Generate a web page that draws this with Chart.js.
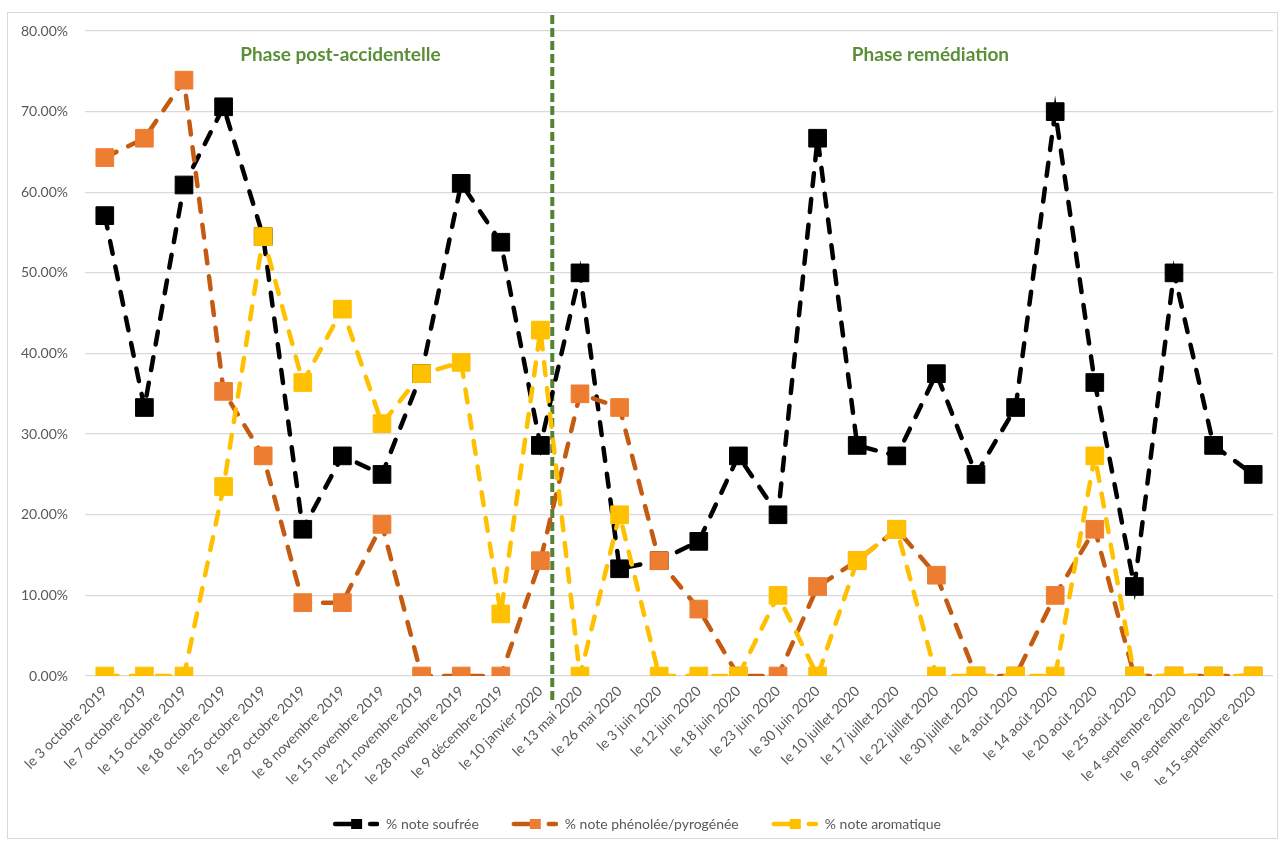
<!DOCTYPE html>
<html>
<head>
<meta charset="utf-8">
<script src="https://cdn.jsdelivr.net/npm/chart.js@4.4.0/dist/chart.umd.min.js"></script>
<style>
  html, body { margin: 0; padding: 0; background: #fff; }
</style>
</head>
<body>
<canvas id="canvasID" width="1281" height="843"></canvas>
<script>
const dates = [
  'le 3 octobre 2019', 'le 7 octobre 2019', 'le 15 octobre 2019', 'le 18 octobre 2019',
  'le 25 octobre 2019', 'le 29 octobre 2019', 'le 8 novembre 2019', 'le 15 novembre 2019',
  'le 21 novembre 2019', 'le 28 novembre 2019', 'le 9 décembre 2019', 'le 10 janvier 2020',
  'le 13 mai 2020', 'le 26 mai 2020', 'le 3 juin 2020', 'le 12 juin 2020',
  'le 18 juin 2020', 'le 23 juin 2020', 'le 30 juin 2020', 'le 10 juillet 2020',
  'le 17 juillet 2020', 'le 22 juillet 2020', 'le 30 juillet 2020', 'le 4 août 2020',
  'le 14 août 2020', 'le 20 août 2020', 'le 25 août 2020', 'le 4 septembre 2020',
  'le 9 septembre 2020', 'le 15 septembre 2020'
]

// values in %
const soufree = [57.1, 33.3, 60.9, 70.6, 54.5, 18.2, 27.3, 25.0, 37.5, 61.1, 53.8, 28.6, 50.0, 13.3, 14.3,
  16.7, 27.3, 20.0, 66.7, 28.6, 27.3, 37.5, 25.0, 33.3, 70.0, 36.4, 11.1, 50.0, 28.6, 25.0]
const phenolee = [64.3, 66.7, 73.9, 35.3, 27.3, 9.1, 9.1, 18.8, 0, 0, 0, 14.3, 35.0, 33.3, 14.3,
  8.3, 0, 0, 11.1, 14.3, 18.2, 12.5, 0, 0, 10.0, 18.2, 0, 0, 0, 0]
const aromatique = [0, 0, 0, 23.5, 54.5, 36.4, 45.5, 31.3, 37.5, 38.9, 7.7, 42.9, 0, 20.0, 0,
  0, 0, 10.0, 0, 14.3, 18.2, 0, 0, 0, 0, 27.3, 0, 0, 0, 0]

const seriesNames = ['% note soufrée', '% note phénolée/pyrogénée', '% note aromatique']
const phaseNames = ['Phase post-accidentelle', 'Phase remédiation']
// category position of phase titles and divider
const phaseAt = [5.95, 20.85]
const dividerAt = 11.3

const FONT = 'Lato, Calibri, Carlito, sans-serif'
const GREY = '#595959'

/////////////////////////////////////////////////
// legend icon: dash + square + short dash
/////////////////////////////////////////////////
function legendIcon(lineColor, markColor) {
  const c = document.createElement('canvas')
  c.width = 47
  c.height = 12
  const ctx = c.getContext('2d')
  ctx.lineCap = 'round'
  ctx.lineWidth = 4.5
  ctx.strokeStyle = lineColor
  ctx.beginPath()
  ctx.moveTo(3, 6)
  ctx.lineTo(24, 6)
  ctx.moveTo(38, 6)
  ctx.lineTo(45, 6)
  ctx.stroke()
  ctx.fillStyle = markColor
  ctx.fillRect(19, 1, 11, 10)
  return c
}

const extras = {
  id: 'extras',
  beforeDraw(chart) {
    const ctx = chart.ctx
    ctx.save()
    ctx.fillStyle = '#fff'
    ctx.fillRect(0, 0, chart.width, chart.height)
    ctx.strokeStyle = '#d9d9d9'
    ctx.lineWidth = 1
    ctx.strokeRect(7.5, 12.5, chart.width - 11, chart.height - 17)
    ctx.restore()
  },
  beforeDatasetsDraw(chart) {
    const { ctx, scales: { x, y } } = chart
    const step = x.getPixelForValue(1) - x.getPixelForValue(0)
    const dx = x.getPixelForValue(0) + dividerAt * step
    ctx.save()
    ctx.strokeStyle = '#548235'
    ctx.lineWidth = 4
    ctx.setLineDash([9, 4])
    ctx.beginPath()
    ctx.moveTo(dx, 15)
    ctx.lineTo(dx, y.bottom + 27)
    ctx.stroke()
    ctx.setLineDash([])
    ctx.fillStyle = '#5B8F35'
    ctx.font = 'bold 19px ' + FONT
    ctx.textAlign = 'center'
    ctx.textBaseline = 'middle'
    phaseNames.forEach((name, i) => {
      ctx.fillText(name, x.getPixelForValue(0) + phaseAt[i] * step, y.getPixelForValue(77.1))
    })
    ctx.restore()
  },
}

const common = {
  borderWidth: 4.5,
  borderDash: [13, 13],
  borderCapStyle: 'round',
  pointStyle: 'rect',
  pointRadius: 12.5,
  pointHoverRadius: 12.5,
  pointBorderWidth: 1,
  tension: 0,
  fill: false,
}

const lineColors = ['#000000', '#C55A11', '#FFC000']
const markColors = ['#000000', '#ED7D31', '#FFC000']

new Chart(document.getElementById('canvasID'), {
  type: 'line',
  data: {
    labels: dates,
    datasets: [
      {
        ...common,
        label: seriesNames[0],
        data: soufree,
        borderColor: lineColors[0],
        pointBackgroundColor: markColors[0],
        pointBorderColor: markColors[0],
        order: 3,
      },
      {
        ...common,
        label: seriesNames[1],
        data: phenolee,
        borderColor: lineColors[1],
        pointBackgroundColor: markColors[1],
        pointBorderColor: markColors[1],
        order: 2,
      },
      {
        ...common,
        label: seriesNames[2],
        data: aromatique,
        borderColor: lineColors[2],
        pointBackgroundColor: markColors[2],
        pointBorderColor: markColors[2],
        order: 1,
      },
    ],
  },
  options: {
    responsive: false,
    animation: false,
    devicePixelRatio: 1,
    layout: { autoPadding: false, padding: { top: 31, right: 8, left: 0, bottom: 2 } },
    scales: {
      x: {
        offset: true,
        grid: { display: false, drawTicks: false },
        border: { display: false },
        ticks: {
          autoSkip: false,
          maxRotation: 45,
          minRotation: 45,
          padding: 7,
          color: GREY,
          font: { family: FONT, size: 14 },
        },
        afterFit: (s) => {
          const lg = s.chart.legend ? s.chart.legend.height : 32
          s.height = 843 - 2 - lg - 676
          s.paddingLeft = 0
          s.paddingRight = 0
        },
      },
      y: {
        min: 0,
        max: 80,
        grid: { color: '#d9d9d9', lineWidth: 1.3, drawTicks: false },
        border: { display: false },
        ticks: {
          stepSize: 10,
          padding: 17,
          color: GREY,
          font: { family: FONT, size: 14 },
          callback: (v) => v.toFixed(2) + '%',
        },
        afterFit: (s) => {
          s.width = 85
        },
      },
    },
    plugins: {
      tooltip: { enabled: false },
      legend: {
        position: 'bottom',
        labels: {
          usePointStyle: true,
          pointStyleWidth: 47,
          padding: 32,
          color: GREY,
          font: { family: FONT, size: 14 },
          generateLabels: (chart) =>
            chart.data.datasets.map((ds, i) => ({
              text: ds.label,
              pointStyle: legendIcon(lineColors[i], markColors[i]),
              fillStyle: markColors[i],
              strokeStyle: 'transparent',
              lineWidth: 0,
              fontColor: GREY,
              hidden: false,
              datasetIndex: i,
            })),
        },
      },
    },
  },
  plugins: [extras],
})
</script>
</body>
</html>
